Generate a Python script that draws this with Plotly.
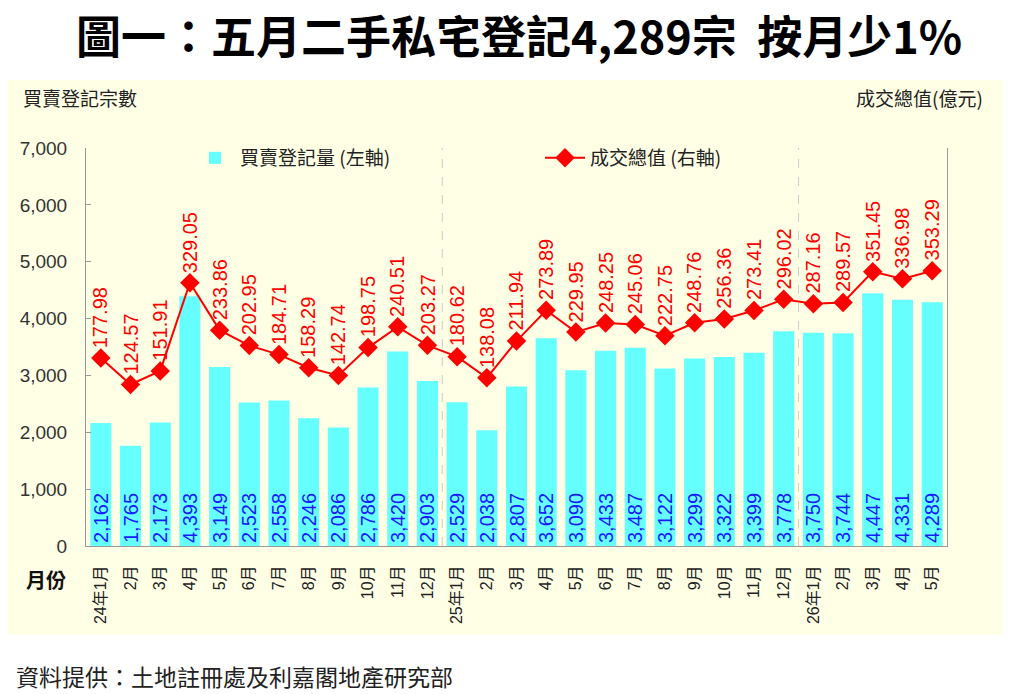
import plotly.graph_objects as go

months = ["24年1月", "2月", "3月", "4月", "5月", "6月", "7月", "8月", "9月", "10月", "11月", "12月",
          "25年1月", "2月", "3月", "4月", "5月", "6月", "7月", "8月", "9月", "10月", "11月", "12月",
          "26年1月", "2月", "3月", "4月", "5月"]
registrations = [2162, 1765, 2173, 4393, 3149, 2523, 2558, 2246, 2086, 2786, 3420, 2903,
                 2529, 2038, 2807, 3652, 3090, 3433, 3487, 3122, 3299, 3322, 3399, 3778,
                 3750, 3744, 4447, 4331, 4289]
values = [177.98, 124.57, 151.91, 329.05, 233.86, 202.95, 184.71, 158.29, 142.74, 198.75, 240.51, 203.27,
          180.62, 138.08, 211.94, 273.89, 229.95, 248.25, 245.06, 222.75, 248.76, 256.36, 273.41, 296.02,
          287.16, 289.57, 351.45, 336.98, 353.29]
left_ticks = [0, 1000, 2000, 3000, 4000, 5000, 6000, 7000]

x = list(range(len(months)))
W, H = 1024, 694
L, R, T, B = 86, 947, 148, 546
CREAM = "#FFFFE6"
FONT = "Liberation Sans, Arial, Noto Sans CJK TC, sans-serif"
CJK = "Noto Sans CJK TC, sans-serif"


def px(v):
    return (v - L) / (R - L)


def py(v):
    return (B - v) / (B - T)


fig = go.Figure()
fig.add_trace(go.Bar(
    x=x, y=registrations, name="買賣登記量 (左軸)",
    marker=dict(color="#66FFFF", line=dict(width=0)),
    text=[f"{v:,}" for v in registrations],
    textposition="inside", insidetextanchor="start", textangle=-90,
    constraintext="none",
    textfont=dict(color="#1A1AFF", size=20, family=FONT),
    yaxis="y",
))
fig.add_trace(go.Scatter(
    x=x, y=values, name="成交總值 (右軸)", mode="lines+markers",
    line=dict(color="#FF0000", width=2),
    marker=dict(symbol="diamond", size=15, color="#FF0000"),
    yaxis="y2",
))

annotations = []
for xi, v in zip(x, values):
    annotations.append(dict(
        x=xi, y=v, xref="x", yref="y2", text=f"{v:.2f}", textangle=-90,
        showarrow=False, yanchor="bottom", xanchor="center", yshift=8,
        font=dict(color="#FF0000", size=20, family=FONT),
    ))

annotations += [
    dict(x=px(21), y=py(97), xref="paper", yref="paper", text="買賣登記宗數",
         showarrow=False, xanchor="left", yanchor="middle",
         font=dict(size=19, color="#222222", family=CJK)),
    dict(x=px(985), y=py(97), xref="paper", yref="paper", text="成交總值(億元)",
         showarrow=False, xanchor="right", yanchor="middle",
         font=dict(size=19, color="#222222", family=CJK)),
    dict(x=px(24), y=py(579), xref="paper", yref="paper", text="<b>月份</b>",
         showarrow=False, xanchor="left", yanchor="middle",
         font=dict(size=20, color="#111111", family=CJK)),
    dict(x=px(14), y=py(676), xref="paper", yref="paper",
         text="資料提供：土地註冊處及利嘉閣地產研究部",
         showarrow=False, xanchor="left", yanchor="middle",
         font=dict(size=23, color="#222222", family=CJK)),
    dict(x=px(519), y=py(35), xref="paper", yref="paper",
         text="<b>圖一：五月二手私宅登記4,289宗  按月少1%</b>",
         showarrow=False, xanchor="center", yanchor="middle",
         font=dict(size=45, color="#000000", family=CJK)),
]

shapes = [
    dict(type="rect", xref="paper", yref="paper", x0=px(8), x1=px(1002), y0=py(635), y1=py(80),
         fillcolor=CREAM, line=dict(width=0), layer="below"),
]
for i, m in enumerate(months):
    if "年" in m and i > 0:
        shapes.append(dict(type="line", xref="x", yref="paper", x0=i - 0.5, x1=i - 0.5, y0=0, y1=1,
                           line=dict(color="#CCCCCC", width=1, dash="dash"), layer="below"))

fig.update_layout(
    width=W, height=H,
    margin=dict(l=L, r=W - R, t=T, b=H - B),
    paper_bgcolor="white", plot_bgcolor="rgba(0,0,0,0)",
    bargap=0.29,
    showlegend=True,
    legend=dict(orientation="h", x=px(190), y=py(158), xanchor="left", yanchor="middle",
                bgcolor="rgba(0,0,0,0)", font=dict(size=19, color="#222222", family=CJK),
                entrywidth=295, entrywidthmode="pixels", itemwidth=40),
    xaxis=dict(tickmode="array", tickvals=x, ticktext=months, tickangle=-90,
               range=[-0.5, len(months) - 0.5], showline=True, linecolor="#999999",
               ticks="", showgrid=False, zeroline=False,
               tickfont=dict(size=16, color="#222222", family=FONT), ticklabelstandoff=12),
    yaxis=dict(range=[0, 7000], tickvals=left_ticks, tickformat=",", showline=True,
               linecolor="#999999", ticks="inside", ticklen=5, tickcolor="#999999",
               showgrid=False, zeroline=False,
               tickfont=dict(size=19, color="#333333", family=FONT), ticklabelstandoff=14),
    yaxis2=dict(range=[-200, 600], overlaying="y", side="right", showline=True,
                linecolor="#999999", showticklabels=False, ticks="", showgrid=False,
                zeroline=False),
    annotations=annotations,
    shapes=shapes,
)

fig.write_html("out.html")
